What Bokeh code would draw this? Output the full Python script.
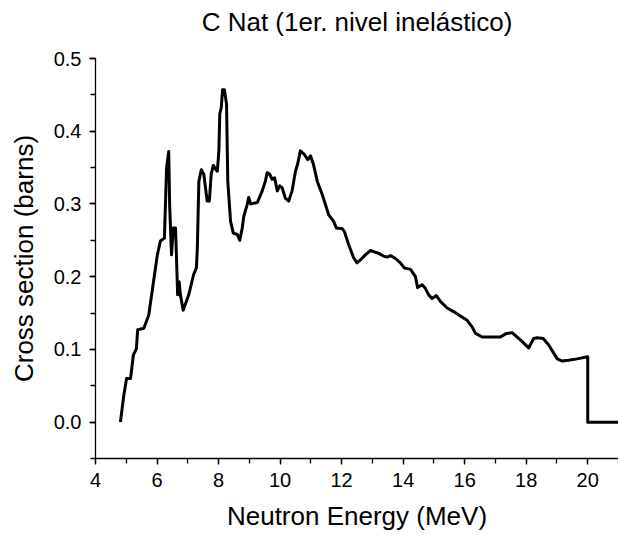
from bokeh.plotting import figure
from bokeh.models import (Range1d, SingleIntervalTicker, PrintfTickFormatter, ColumnDataSource,
                          LinearAxis, FixedTicker)
from bokeh.embed import file_html
from bokeh.resources import INLINE

title_text = "C Nat (1er. nivel inelástico)"
x_label = "Neutron Energy (MeV)"
y_label = "Cross section (barns)"

energy = [4.81, 4.92, 5.01, 5.14, 5.23, 5.33, 5.37, 5.57, 5.73, 6.01, 6.11, 6.24, 6.31, 6.38, 6.41,
          6.47, 6.53, 6.60, 6.63, 6.67, 6.72, 6.76, 6.85, 7.03, 7.19, 7.28, 7.31, 7.36, 7.44, 7.52,
          7.63, 7.70, 7.76, 7.83, 7.90, 7.96, 8.01, 8.04, 8.09, 8.13, 8.19, 8.26, 8.30, 8.39, 8.48,
          8.61, 8.69, 8.77, 8.82, 8.93, 8.98, 9.04, 9.26, 9.42, 9.52, 9.58, 9.66, 9.74, 9.82, 9.91,
          9.99, 10.07, 10.17, 10.28, 10.39, 10.50, 10.57, 10.66, 10.77, 10.90, 10.99, 11.08, 11.21,
          11.37, 11.58, 11.74, 11.83, 12.02, 12.09, 12.23, 12.39, 12.50, 12.61, 12.77, 12.94, 13.07,
          13.21, 13.37, 13.48, 13.59, 13.75, 13.91, 14.04, 14.24, 14.40, 14.47, 14.62, 14.72, 14.83,
          14.94, 15.08, 15.21, 15.43, 15.64, 15.86, 16.08, 16.24, 16.35, 16.57, 17.16, 17.36, 17.54,
          17.81, 18.08, 18.24, 18.36, 18.55, 18.73, 19.01, 19.17, 19.38, 19.65, 20.0, 20.0, 21.0]

sigma = [0.000, 0.037, 0.060, 0.060, 0.092, 0.101, 0.127, 0.129, 0.147, 0.230, 0.249, 0.253, 0.350,
         0.372, 0.299, 0.230, 0.267, 0.267, 0.230, 0.175, 0.193, 0.175, 0.154, 0.175, 0.203, 0.212,
         0.239, 0.331, 0.347, 0.341, 0.304, 0.304, 0.341, 0.353, 0.348, 0.345, 0.373, 0.424, 0.433,
         0.457, 0.457, 0.437, 0.331, 0.276, 0.260, 0.258, 0.250, 0.267, 0.283, 0.299, 0.309, 0.300,
         0.302, 0.318, 0.331, 0.343, 0.341, 0.334, 0.336, 0.318, 0.325, 0.322, 0.308, 0.304, 0.318,
         0.345, 0.355, 0.373, 0.369, 0.361, 0.366, 0.355, 0.331, 0.313, 0.285, 0.276, 0.267, 0.266,
         0.262, 0.244, 0.226, 0.219, 0.223, 0.230, 0.236, 0.234, 0.232, 0.228, 0.227, 0.229, 0.225,
         0.219, 0.212, 0.210, 0.200, 0.185, 0.189, 0.184, 0.175, 0.170, 0.174, 0.166, 0.157, 0.152,
         0.146, 0.140, 0.131, 0.122, 0.117, 0.117, 0.122, 0.123, 0.113, 0.102, 0.115, 0.116, 0.115,
         0.106, 0.087, 0.084, 0.085, 0.087, 0.090, 0.000, 0.000]

FONT = "Liberation Sans"

p = figure(width=618, height=537, output_backend="svg", toolbar_location=None,
           x_range=Range1d(4, 21), y_range=Range1d(-0.05, 0.5),
           min_border_left=95, min_border_right=0, min_border_top=58, min_border_bottom=79)

# title drawn as the label of an empty top axis so that its position can be set precisely
top = LinearAxis(ticker=FixedTicker(ticks=[]), axis_label=title_text,
                 axis_line_color=None, major_tick_line_color=None, minor_tick_line_color=None,
                 major_label_text_font_size="0px", major_label_standoff=0,
                 major_tick_out=0, minor_tick_out=0,
                 axis_label_standoff=22, axis_label_text_font=FONT,
                 axis_label_text_font_size="26px", axis_label_text_font_style="normal",
                 axis_label_text_color="black")
p.add_layout(top, "above")

p.outline_line_color = None
p.xgrid.visible = False
p.ygrid.visible = False
p.background_fill_color = "white"
p.border_fill_color = "white"

src = ColumnDataSource(data=dict(x=energy, y=sigma))
p.line("x", "y", source=src, line_color="black", line_width=3, line_join="round")

p.below[0].ticker = SingleIntervalTicker(interval=2, num_minor_ticks=2)
p.yaxis.ticker = SingleIntervalTicker(interval=0.1, num_minor_ticks=2)
p.yaxis.formatter = PrintfTickFormatter(format="%.1f")

for ax in (p.below[0], p.left[0]):
    ax.axis_line_color = "black"
    ax.axis_line_width = 1.3
    ax.major_tick_line_color = "black"
    ax.minor_tick_line_color = "black"
    ax.major_tick_line_width = 1.3
    ax.minor_tick_line_width = 1.3
    ax.major_tick_out = 6
    ax.major_tick_in = 0
    ax.minor_tick_out = 5
    ax.minor_tick_in = 0
    ax.major_label_text_font = FONT
    ax.major_label_text_font_size = "20px"
    ax.major_label_text_color = "black"
    ax.axis_label_text_font = FONT
    ax.axis_label_text_font_size = "26px"
    ax.axis_label_text_font_style = "normal"
    ax.axis_label_text_color = "black"

p.below[0].axis_label = x_label
p.left[0].axis_label = y_label
p.below[0].major_label_standoff = 8
p.left[0].major_label_standoff = 8
p.below[0].axis_label_standoff = 11
p.left[0].axis_label_standoff = 12

open("out.html", "w").write(file_html(p, INLINE))
